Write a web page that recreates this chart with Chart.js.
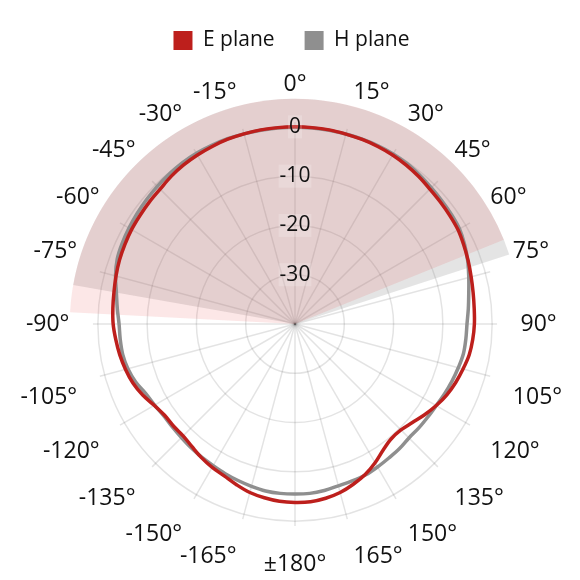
<!DOCTYPE html>
<html>
<head>
<meta charset="utf-8">
<script src="https://cdn.jsdelivr.net/npm/chart.js@4.4.1/dist/chart.umd.min.js"></script>
<style>
  html, body { margin: 0; padding: 0; background: #ffffff; }
  .container { width: 580px; height: 580px; }
</style>
</head>
<body>
<div class="container"><canvas id="myChart"></canvas></div>
<script>
// angoli in gradi, in senso orario a partire da 0° in alto
const angoli = [
  0, 5, 10, 15, 20, 25, 30, 35, 40, 45, 50, 55,
  60, 65, 70, 75, 80, 85, 90, 95, 100, 105, 110, 115,
  120, 125, 130, 135, 140, 145, 150, 155, 160, 165, 170, 175,
  180, -175, -170, -165, -160, -155, -150, -145, -140, -135, -130, -125,
  -120, -115, -110, -105, -100, -95, -90, -85, -80, -75, -70, -65,
  -60, -55, -50, -45, -40, -35, -30, -25, -20, -15, -10, -5,
];

// guadagno normalizzato (dB) piano E
const ePlane = [
  0.0, 0.0, 0.0, -0.1, -0.15, -0.25, -0.4, -0.65, -0.95, -1.3, -1.5, -1.65,
  -1.8, -2.2, -2.6, -3.0, -3.3, -3.5, -3.6, -3.8, -4.1, -4.7, -5.3, -6.0,
  -6.9, -7.9, -8.9, -9.6, -9.6, -8.8, -7.5, -6.3, -5.4, -4.6, -4.1, -3.8,
  -3.8, -3.9, -4.2, -4.6, -5.3, -6.0, -6.4, -6.9, -7.5, -7.9, -7.8, -7.7,
  -7.0, -5.9, -5.0, -4.4, -3.9, -3.5, -3.1, -2.9, -2.7, -2.4, -2.1, -1.9,
  -1.7, -1.6, -1.45, -1.3, -0.9, -0.6, -0.4, -0.25, -0.1, -0.05, 0.0, 0.0,
];

// guadagno normalizzato (dB) piano H
const hPlane = [
  -0.1, -0.1, -0.1, -0.1, -0.1, -0.1, -0.15, -0.3, -0.6, -0.9, -1.1, -1.25,
  -1.45, -2.0, -2.7, -3.5, -4.2, -4.7, -5.1, -5.2, -5.3, -5.7, -6.1, -6.5,
  -6.9, -7.1, -7.2, -7.3, -7.0, -6.8, -6.5, -6.2, -6.1, -6.0, -5.7, -5.5,
  -5.5, -5.5, -5.6, -5.9, -6.2, -6.5, -6.8, -7.0, -7.2, -7.4, -7.5, -7.5,
  -7.1, -6.6, -5.6, -4.9, -4.5, -4.4, -4.3, -3.8, -3.2, -2.3, -1.6, -1.3,
  -1.1, -0.9, -0.7, -0.5, -0.3, -0.1, 0.0, 0.0, 0.0, -0.05, -0.1, -0.1,
];

const tickValori = [-40, -30, -20, -10, 0];

// settori a -3 dB (da, a) in gradi
const eBeam = [-87, 68];
const hBeam = [-80, 72];
const beamLevel = 5.7;

const rosso = "#bd1f1c";
const grigio = "#8f8f8f";

Chart.defaults.font.family = "'Open Sans', 'Noto Sans', sans-serif";
Chart.defaults.color = "#111111";

function etichetta(angolo) {
  if (angolo === 180) return "\u00b1180\u00b0";
  return angolo + "\u00b0";
}

// disegna i settori dietro le curve
const settoriPlugin = {
  id: "settori",
  beforeDatasetsDraw(chart) {
    const scala = chart.scales.r;
    const ctx = chart.ctx;
    const raggio = scala.getDistanceFromCenterForValue(beamLevel);
    const settori = [
      [hBeam, "rgba(140, 140, 140, 0.235)"],
      [eBeam, "rgba(230, 40, 40, 0.11)"],
    ];
    settori.forEach(([beam, colore]) => {
      const a0 = (beam[0] * Math.PI) / 180 - Math.PI / 2;
      const a1 = (beam[1] * Math.PI) / 180 - Math.PI / 2;
      ctx.save();
      ctx.beginPath();
      ctx.moveTo(scala.xCenter, scala.yCenter);
      ctx.arc(scala.xCenter, scala.yCenter, raggio, a0, a1);
      ctx.closePath();
      ctx.fillStyle = colore;
      ctx.fill();
      ctx.restore();
    });
  },
};

// un po' di spazio in più sotto la legenda
const spazioLegenda = {
  id: "spazioLegenda",
  beforeInit(chart) {
    const fitOriginale = chart.legend.fit;
    chart.legend.fit = function () {
      fitOriginale.bind(chart.legend)();
      this.height += 10;
    };
  },
};

const data = {
  labels: angoli,
  datasets: [
    {
      label: "E plane",
      data: ePlane,
      borderColor: rosso,
      backgroundColor: rosso,
      borderWidth: 3.5,
      fill: false,
      pointRadius: 0,
      tension: 0.35,
    },
    {
      label: "H plane",
      data: hPlane,
      borderColor: grigio,
      backgroundColor: grigio,
      borderWidth: 3.5,
      fill: false,
      pointRadius: 0,
      tension: 0.35,
    },
  ],
};

const config = {
  type: "radar",
  data: data,
  options: {
    responsive: true,
    maintainAspectRatio: false,
    animation: false,
    layout: { padding: { left: 3, right: 0, top: 0, bottom: 0 } },
    scales: {
      r: {
        min: -40,
        max: 1,
        startAngle: 0,
        afterBuildTicks: (s) => {
          s.ticks = tickValori.map((v) => ({ value: v }));
        },
        ticks: {
          z: 1,
          color: "#111111",
          font: { size: 21 },
          callback: (v) => (v === -40 ? "" : v),
          showLabelBackdrop: (c) => c.tick.value !== -40,
          backdropColor: "rgba(255, 255, 255, 0.18)",
          backdropPadding: 1,
        },
        grid: {
          circular: true,
          color: "rgba(0, 0, 0, 0.11)",
          lineWidth: 1.5,
        },
        angleLines: {
          color: "rgba(0, 0, 0, 0.11)",
          lineWidth: (c) => (c.index % 3 === 0 ? 1.5 : 0),
        },
        pointLabels: {
          color: "#111111",
          // etichette della metà inferiore un po' più in basso
          font: (c) => ({
            size: 23,
            lineHeight: c.index > 18 && c.index < 54 ? 1.28 : 1.2,
          }),
          padding: 12,
          callback: (l, i) => (i % 3 === 0 ? etichetta(l) : ""),
        },
      },
    },
    plugins: {
      legend: {
        position: "top",
        labels: {
          boxWidth: 19,
          boxHeight: 19,
          padding: 30,
          color: "#111111",
          font: { size: 21 },
          generateLabels: (chart) =>
            Chart.defaults.plugins.legend.labels
              .generateLabels(chart)
              .map((item) => ({ ...item, lineWidth: 0 })),
        },
      },
      tooltip: { enabled: false },
    },
  },
  plugins: [settoriPlugin, spazioLegenda],
};

const myChart = new Chart(document.getElementById("myChart"), config);
</script>
</body>
</html>
